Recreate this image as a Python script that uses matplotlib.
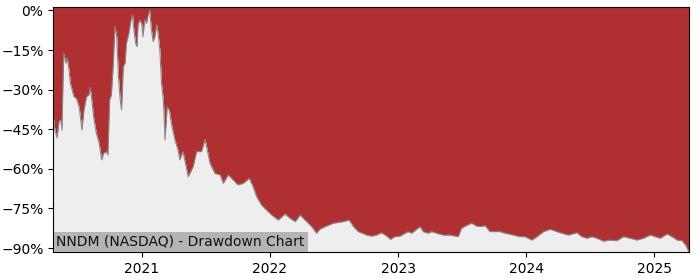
import matplotlib
matplotlib.use('Agg')
import matplotlib.pyplot as plt
import matplotlib.dates as mdates
from matplotlib.ticker import FuncFormatter, MultipleLocator
import numpy as np
import pandas as pd

# drawdown of NNDM in percent
dates = ['2020-04-23', '2020-04-28', '2020-05-04', '2020-05-10', '2020-05-15', '2020-05-18',
         '2020-05-23', '2020-05-29', '2020-06-02', '2020-06-07', '2020-06-11', '2020-06-21',
         '2020-06-28', '2020-07-06', '2020-07-14', '2020-07-20', '2020-07-27', '2020-08-03',
         '2020-08-06', '2020-08-10', '2020-08-16', '2020-08-24', '2020-09-01', '2020-09-08',
         '2020-09-14', '2020-09-22', '2020-09-26', '2020-10-01', '2020-10-06', '2020-10-11',
         '2020-10-16', '2020-10-21', '2020-10-26', '2020-10-31', '2020-11-04', '2020-11-09',
         '2020-11-14', '2020-11-18', '2020-11-25', '2020-12-01', '2020-12-05', '2020-12-09',
         '2020-12-14', '2020-12-18', '2020-12-21', '2020-12-26', '2020-12-31', '2021-01-04',
         '2021-01-09', '2021-01-14', '2021-01-19', '2021-01-23', '2021-01-28', '2021-02-02',
         '2021-02-07', '2021-02-12', '2021-02-16', '2021-02-21', '2021-02-26', '2021-03-03',
         '2021-03-08', '2021-03-14', '2021-03-20', '2021-03-27', '2021-04-05', '2021-04-14',
         '2021-04-19', '2021-04-28', '2021-05-13', '2021-05-27', '2021-06-06', '2021-06-20',
         '2021-06-30', '2021-07-14', '2021-07-28', '2021-08-12', '2021-08-21', '2021-09-04',
         '2021-09-18', '2021-10-02', '2021-10-17', '2021-11-03', '2021-11-14', '2021-11-24',
         '2021-12-08', '2021-12-22', '2022-01-06', '2022-01-25', '2022-02-13', '2022-02-27',
         '2022-03-14', '2022-03-28', '2022-04-06', '2022-04-20', '2022-04-30', '2022-05-14',
         '2022-05-23', '2022-06-07', '2022-07-01', '2022-07-29', '2022-08-15', '2022-08-27',
         '2022-09-10', '2022-10-04', '2022-10-18', '2022-11-01', '2022-11-15', '2022-11-30',
         '2022-12-11', '2022-12-23', '2023-01-07', '2023-01-21', '2023-01-30', '2023-02-09',
         '2023-02-23', '2023-03-05', '2023-03-14', '2023-03-28', '2023-04-07', '2023-04-21',
         '2023-05-10', '2023-05-29', '2023-06-22', '2023-07-01', '2023-07-15', '2023-07-30',
         '2023-08-13', '2023-08-27', '2023-09-06', '2023-09-20', '2023-10-04', '2023-10-19',
         '2023-11-02', '2023-11-26', '2023-12-15', '2023-12-29', '2024-01-18', '2024-02-01',
         '2024-02-20', '2024-03-10', '2024-03-29', '2024-04-12', '2024-05-01', '2024-05-25',
         '2024-06-08', '2024-06-23', '2024-07-07', '2024-07-21', '2024-08-09', '2024-08-28',
         '2024-09-16', '2024-10-05', '2024-10-24', '2024-11-12', '2024-12-01', '2024-12-20',
         '2025-01-03', '2025-01-18', '2025-02-06', '2025-02-20', '2025-03-07', '2025-03-21',
         '2025-03-31', '2025-04-09']
drawdown = [-40.0, -45.3, -48.3, -42.0, -41.5, -45.3,
            -16.2, -20.0, -18.1, -22.5, -27.6, -32.7,
            -33.3, -36.5, -45.3, -37.7, -32.7, -32.0,
            -29.1, -32.7, -40.2, -46.5, -50.3, -56.6,
            -54.1, -53.5, -54.8, -33.9, -32.0, -21.3,
            -6.1, -9.9, -25.1, -33.9, -37.7, -21.3,
            -20.0, -12.4, -8.6, -3.6, -1.7, -7.4,
            -12.4, -13.7, -5.5, -3.6, -4.9, -9.9,
            -3.6, -4.9, -1.7, 0.0, -7.4, -11.8,
            -9.9, -5.5, -8.6, -15.0, -28.0, -33.9,
            -49.1, -36.5, -37.7, -43.5, -49.1, -52.9,
            -56.6, -53.5, -63.0, -59.2, -53.5, -53.5,
            -48.8, -57.9, -61.7, -62.3, -65.5, -62.3,
            -64.2, -66.1, -65.5, -63.6, -66.8, -70.6,
            -73.7, -75.6, -77.5, -79.4, -77.1, -78.7,
            -80.0, -77.5, -78.7, -80.6, -81.9, -84.4,
            -82.9, -81.9, -80.6, -80.0, -79.4, -81.9,
            -83.8, -85.1, -85.5, -85.1, -84.2, -85.5,
            -86.7, -85.7, -85.5, -84.4, -83.8, -84.4,
            -82.9, -81.9, -83.8, -84.4, -83.8, -84.4,
            -85.1, -85.1, -85.7, -82.5, -81.5, -80.6,
            -81.7, -81.9, -81.5, -83.8, -83.8, -83.8,
            -84.4, -85.1, -85.7, -85.7, -87.0, -85.7,
            -83.8, -82.9, -83.8, -84.4, -85.1, -84.2,
            -85.7, -86.3, -85.7, -86.3, -87.4, -87.0,
            -87.2, -85.7, -86.3, -87.0, -86.3, -85.1,
            -85.7, -86.3, -84.7, -85.7, -87.0, -87.2,
            -88.9, -91.4]
title = 'NNDM (NASDAQ) - Drawdown Chart'

x = pd.to_datetime(dates)
dd = np.array(drawdown)
ymin, ymax = -91.5, 1.3

fig = plt.figure(figsize=(7, 2.8), dpi=100)
ax = fig.add_axes([0.076, 0.1, 0.908, 0.875])

ax.fill_between(x, dd, ymax, color='#b03032', linewidth=0)
ax.fill_between(x, ymin, dd, color='#eeeeee', linewidth=0)
ax.plot(x, dd, color='#888888', linewidth=0.8)

ax.set_xlim(x[0], x[-1])
ax.set_ylim(ymin, ymax)
ax.yaxis.set_major_locator(MultipleLocator(15))
ax.yaxis.set_major_formatter(FuncFormatter(lambda v, p: f'{v:.0f}%'.replace('-', '\u2212')))
ax.xaxis.set_major_locator(mdates.YearLocator())
ax.xaxis.set_major_formatter(mdates.DateFormatter('%Y'))

ax.text(0.005, 0.025, title, transform=ax.transAxes, fontsize=10, color='#111111',
        bbox=dict(facecolor='#b4b4b4', edgecolor='none', pad=2))

fig.savefig('out.png')
